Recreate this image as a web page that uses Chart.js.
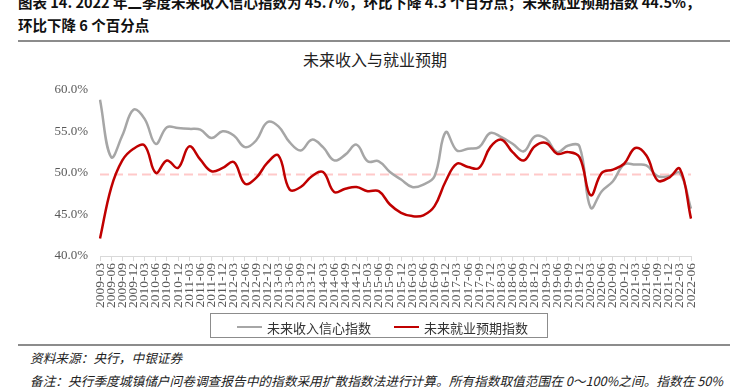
<!DOCTYPE html>
<html>
<head>
<meta charset="utf-8">
<title>未来收入与就业预期</title>
<script src="https://cdn.jsdelivr.net/npm/chart.js@4.4.0/dist/chart.umd.min.js"></script>
<style>
  body { margin: 0; width: 750px; height: 387px; overflow: hidden; background: #fff; position: relative; font-family: "Noto Sans CJK SC", sans-serif; }
  .cap { position: absolute; left: 18px; font-weight: bold; font-size: 14.5px; color: #111; white-space: nowrap; }
  .rule { position: absolute; left: 18px; width: 712px; height: 0; border-top: 2px solid #8c8c8c; }
  #title { position: absolute; left: 0; width: 750px; top: 47px; text-align: center; font-size: 16px; color: #222; }
  #wrap { position: absolute; left: 0; top: 70px; width: 750px; height: 245px; }
  #legend { position: absolute; left: 210px; top: 313px; width: 336px; height: 23px; border: 1px solid #8c8c8c; font-size: 13px; color: #333; line-height: 23px; }
  #legend span.l { display: inline-block; width: 25px; height: 0; vertical-align: middle; margin-right: 5px; }
  #legend span.t { vertical-align: middle; }
  .note { position: absolute; left: 30px; font-size: 12.7px; font-style: italic; color: #222; white-space: nowrap; }
</style>
</head>
<body>
<div class="cap" style="top:-9px">图表 14. 2022 年二季度未来收入信心指数为 45.7%，环比下降 4.3 个百分点；未来就业预期指数 44.5%，</div>
<div class="cap" style="top:14px">环比下降 6 个百分点</div>
<div class="rule" style="top:40px"></div>
<div id="title">未来收入与就业预期</div>
<div id="wrap"><canvas id="chart"></canvas></div>
<div id="legend">
  <span class="l" style="margin-left:26px;border-top:2.5px solid #a6a6a6"></span><span class="t">未来收入信心指数</span>
  <span class="l" style="margin-left:20px;border-top:2.5px solid #c00000"></span><span class="t">未来就业预期指数</span>
</div>
<div class="rule" style="top:344px"></div>
<div class="note" style="top:348px">资料来源：央行，中银证券</div>
<div class="note" style="top:371px">备注：央行季度城镇储户问卷调查报告中的指数采用扩散指数法进行计算。所有指数取值范围在 0～100%之间。指数在 50%</div>
<script>
const labels = ['2009-03','2009-06','2009-09','2009-12','2010-03','2010-06','2010-09','2010-12',
  '2011-03','2011-06','2011-09','2011-12','2012-03','2012-06','2012-09','2012-12',
  '2013-03','2013-06','2013-09','2013-12','2014-03','2014-06','2014-09','2014-12',
  '2015-03','2015-06','2015-09','2015-12','2016-03','2016-06','2016-09','2016-12',
  '2017-03','2017-06','2017-09','2017-12','2018-03','2018-06','2018-09','2018-12',
  '2019-03','2019-06','2019-09','2019-12','2020-03','2020-06','2020-09','2020-12',
  '2021-03','2021-06','2021-09','2021-12','2022-03','2022-06'];

// 未来收入信心指数 (%)
const income = [58.8,51.9,54.5,57.6,56.5,53.5,55.5,55.4,
  55.3,55.2,54.2,55.0,54.5,53.1,53.9,56.1,
  55.6,53.7,52.7,54.0,53.1,51.5,52.2,53.4,
  51.4,51.4,50.1,49.2,48.3,48.6,49.6,54.9,
  52.7,52.9,53.1,54.8,54.3,53.5,52.6,54.4,
  54.1,52.5,53.3,53.2,45.8,47.8,49.0,51.0,
  51.0,50.9,49.6,49.6,50.0,45.7];

// 未来就业预期指数 (%)
const employment = [42.1,48.2,51.5,52.9,53.3,50.0,51.5,50.6,
  53.2,51.6,50.2,50.6,51.3,48.7,49.4,51.2,
  52.1,48.0,48.3,49.6,50.1,47.7,48.1,48.3,
  47.8,47.8,46.2,45.2,44.8,44.9,46.0,49.0,
  51.1,50.7,50.6,53.1,54.0,52.5,51.5,53.2,
  53.6,52.3,52.5,51.9,47.3,50.0,50.4,51.1,
  53.0,52.1,49.1,49.4,50.5,44.5];

// 50% reference level (dashed)
const baseline = 49.8;

const axisFont = { family: '"Liberation Serif", "Times New Roman", serif', size: 13 };

new Chart(document.getElementById('chart'), {
  type: 'line',
  data: {
    labels: labels,
    datasets: [
      { label: 'ref', data: labels.map(() => baseline), borderColor: '#ffc9c9', borderWidth: 2,
        borderDash: [9, 5], pointRadius: 0, tension: 0, order: 3 },
      { label: '未来收入信心指数', data: income, borderColor: '#a6a6a6', borderWidth: 2.5,
        pointRadius: 0, tension: 0.4, order: 2 },
      { label: '未来就业预期指数', data: employment, borderColor: '#c00000', borderWidth: 2.5,
        pointRadius: 0, tension: 0.4, order: 1 }
    ]
  },
  options: {
    responsive: true,
    maintainAspectRatio: false,
    animation: false,
    layout: { padding: { left: 0, right: 59, top: 17, bottom: 0 } },
    plugins: { legend: { display: false }, tooltip: { enabled: false } },
    scales: {
      x: {
        offset: false,
        grid: { display: true, drawOnChartArea: false, drawTicks: true, tickLength: 5, color: '#d9d9d9' },
        border: { color: '#d9d9d9' },
        ticks: { autoSkip: false, maxRotation: 90, minRotation: 90, padding: 2, color: '#595959',
          font: { family: axisFont.family, size: 13.5 } },
        afterFit: s => { s.height = 59; }
      },
      y: {
        min: 40, max: 60,
        grid: { display: false, drawTicks: false },
        border: { display: false },
        ticks: { stepSize: 5, padding: 12, color: '#595959', font: axisFont,
          callback: v => v.toFixed(1) + '%' },
        afterFit: s => { s.width = 100; }
      }
    }
  }
});
</script>
</body>
</html>
